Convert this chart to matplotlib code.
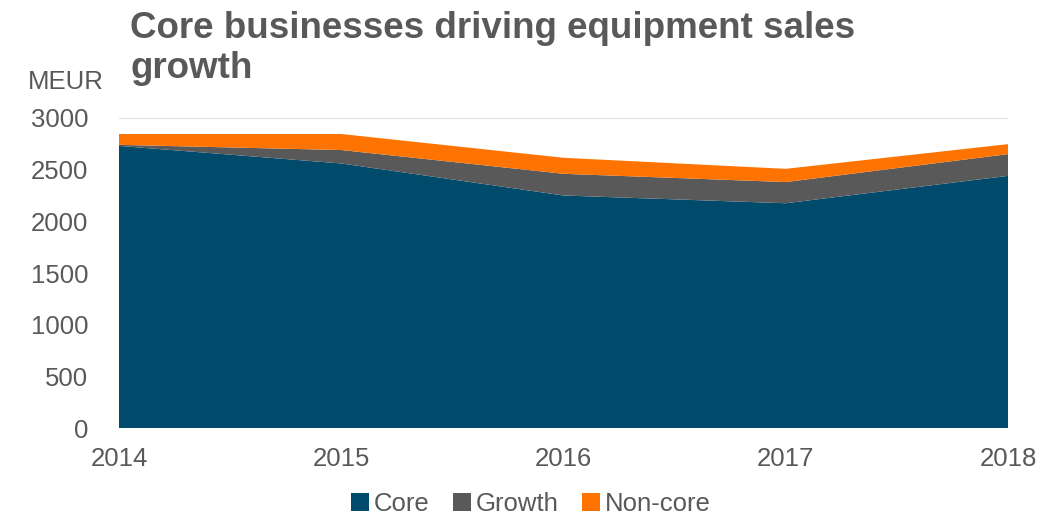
import numpy as np
import matplotlib.pyplot as plt

plt.rcParams['font.family'] = ['Liberation Sans', 'DejaVu Sans']

# Equipment sales, MEUR
years = [2014, 2015, 2016, 2017, 2018]
core = [2730, 2560, 2250, 2175, 2440]
growth = [10, 130, 210, 205, 210]
non_core = [105, 155, 155, 128, 97]

labels = ["Core", "Growth", "Non-core"]
colors = ["#004A6C", "#595959", "#FF7300"]
text_color = "#595959"

fig = plt.figure(figsize=(10.41, 5.15), dpi=100)
ax = fig.add_axes([0.1143, 0.1689, 0.854, 0.602])

ax.stackplot(years, core, growth, non_core, labels=labels, colors=colors,
             linewidth=0, zorder=2)

ax.set_xlim(2014, 2018)
ax.set_ylim(0, 3000)
ax.set_xticks(years)
ax.set_yticks(np.arange(0, 3001, 500))
ax.yaxis.grid(True, color="#D9D9D9", linewidth=1.2, zorder=0)
ax.set_axisbelow(True)
for s in ax.spines.values():
    s.set_visible(False)
ax.tick_params(length=0, labelsize=18.5, labelcolor=text_color)
ax.tick_params(axis="y", pad=22)
ax.tick_params(axis="x", pad=14)

fig.text(0.027, 0.84, "MEUR", fontsize=18.5, color=text_color, va="center")
fig.text(0.125, 0.978, "Core businesses driving equipment sales\ngrowth",
         fontsize=26.5, fontweight="bold", color=text_color, va="top",
         linespacing=1.17)

leg = fig.legend(loc="center", bbox_to_anchor=(0.51, 0.022), ncol=3,
                 frameon=False, fontsize=18.5, handlelength=0.7,
                 handleheight=0.7, handletextpad=0.2, columnspacing=0.9)
for t in leg.get_texts():
    t.set_color(text_color)

fig.savefig("out.png", dpi=100)
